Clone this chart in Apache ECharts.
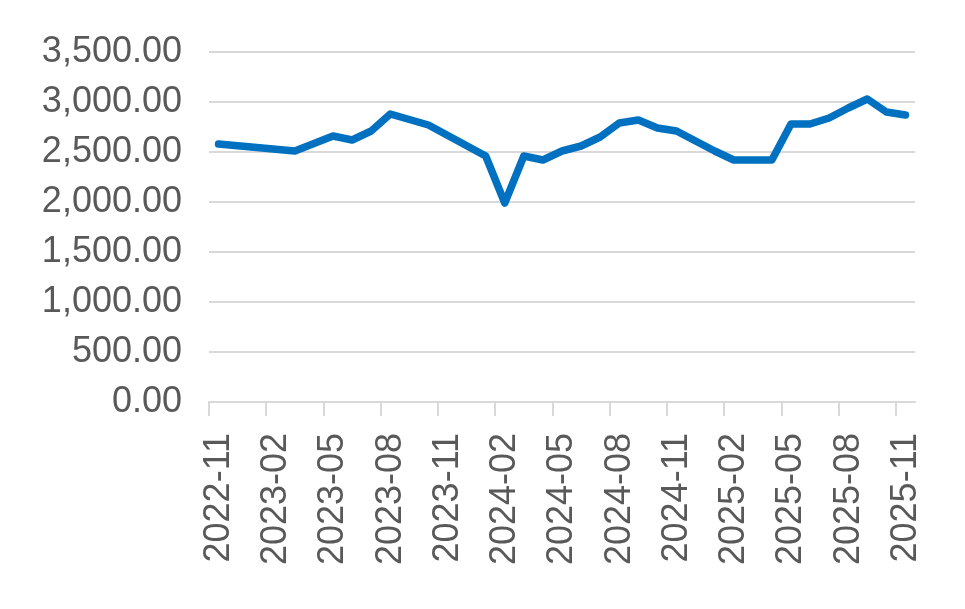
<!DOCTYPE html>
<html>
<head>
<meta charset="utf-8">
<script src="https://cdn.jsdelivr.net/npm/echarts@6/dist/echarts.min.js"></script>
<style>
  html, body { margin: 0; padding: 0; background: #fff; }
  #chart { width: 965px; height: 609px; }
</style>
</head>
<body>
<div id="chart"></div>
<script>
// monthly data (only the months that show as vertices on the line)
var months = ['2022-11', '2023-03', '2023-05', '2023-06', '2023-07', '2023-08', '2023-10',
  '2024-01', '2024-02', '2024-03', '2024-04', '2024-05', '2024-06', '2024-07', '2024-08',
  '2024-09', '2024-10', '2024-11', '2025-01', '2025-02', '2025-04', '2025-05', '2025-06',
  '2025-07', '2025-08', '2025-09', '2025-10', '2025-11']
var values = [2580, 2510, 2660, 2620, 2710, 2880, 2770,
  2460, 1990, 2460, 2420, 2510, 2560, 2650, 2790,
  2820, 2740, 2710, 2510, 2420, 2420, 2780, 2780,
  2840, 2940, 3030, 2900, 2870]
var tickLabels = ['2022-11', '2023-02', '2023-05', '2023-08', '2023-11', '2024-02', '2024-05',
  '2024-08', '2024-11', '2025-02', '2025-05', '2025-08', '2025-11']

var startYear = 2022, startMonth = 11
// month slot index, point sits in the middle of its month
function monthIndex(s) {
  var p = s.split('-')
  return (parseInt(p[0]) - startYear) * 12 + parseInt(p[1]) - startMonth
}
function indexToLabel(i) {
  var m = startMonth - 1 + i
  var y = startYear + Math.floor(m / 12)
  var mm = (m % 12) + 1
  return y + '-' + (mm < 10 ? '0' + mm : mm)
}

var tickValues = tickLabels.map(monthIndex)
var seriesData = months.map(function(m, i) { return [monthIndex(m) + 0.5, values[i]] })

var chart = echarts.init(document.getElementById('chart'))
chart.setOption({
  animation: false,
  textStyle: { fontFamily: 'Liberation Sans, Arial, sans-serif' },
  grid: { left: 209, right: 50, top: 52, bottom: 207, containLabel: false },
  xAxis: {
    type: 'value',
    min: 0,
    max: monthIndex('2025-11') + 1,
    splitLine: { show: false },
    axisLine: { show: true, lineStyle: { color: '#d9d9d9', width: 2 } },
    axisTick: { show: true, length: 14, customValues: tickValues, lineStyle: { color: '#d9d9d9', width: 2 } },
    axisLabel: {
      customValues: tickValues,
      rotate: 90,
      margin: 31,
      verticalAlign: 'top',
      lineHeight: 20,
      color: '#595959',
      fontSize: 36,
      fontFamily: 'Liberation Sans, Arial, sans-serif',
      formatter: function(v) { return indexToLabel(Math.round(v)) }
    }
  },
  yAxis: {
    type: 'value',
    min: 0,
    max: 3500,
    interval: 500,
    axisLine: { show: false },
    axisTick: { show: false },
    splitLine: { lineStyle: { color: '#d9d9d9', width: 2 } },
    axisLabel: {
      margin: 27,
      color: '#595959',
      fontSize: 36,
      fontFamily: 'Liberation Sans, Arial, sans-serif',
      formatter: function(v) {
        return v.toLocaleString('en-US', { minimumFractionDigits: 2, maximumFractionDigits: 2 })
      }
    }
  },
  series: [{
    type: 'line',
    data: seriesData,
    showSymbol: false,
    symbol: 'none',
    lineStyle: { color: '#0070c0', width: 7.5, cap: 'round', join: 'round' }
  }]
})
</script>
</body>
</html>
